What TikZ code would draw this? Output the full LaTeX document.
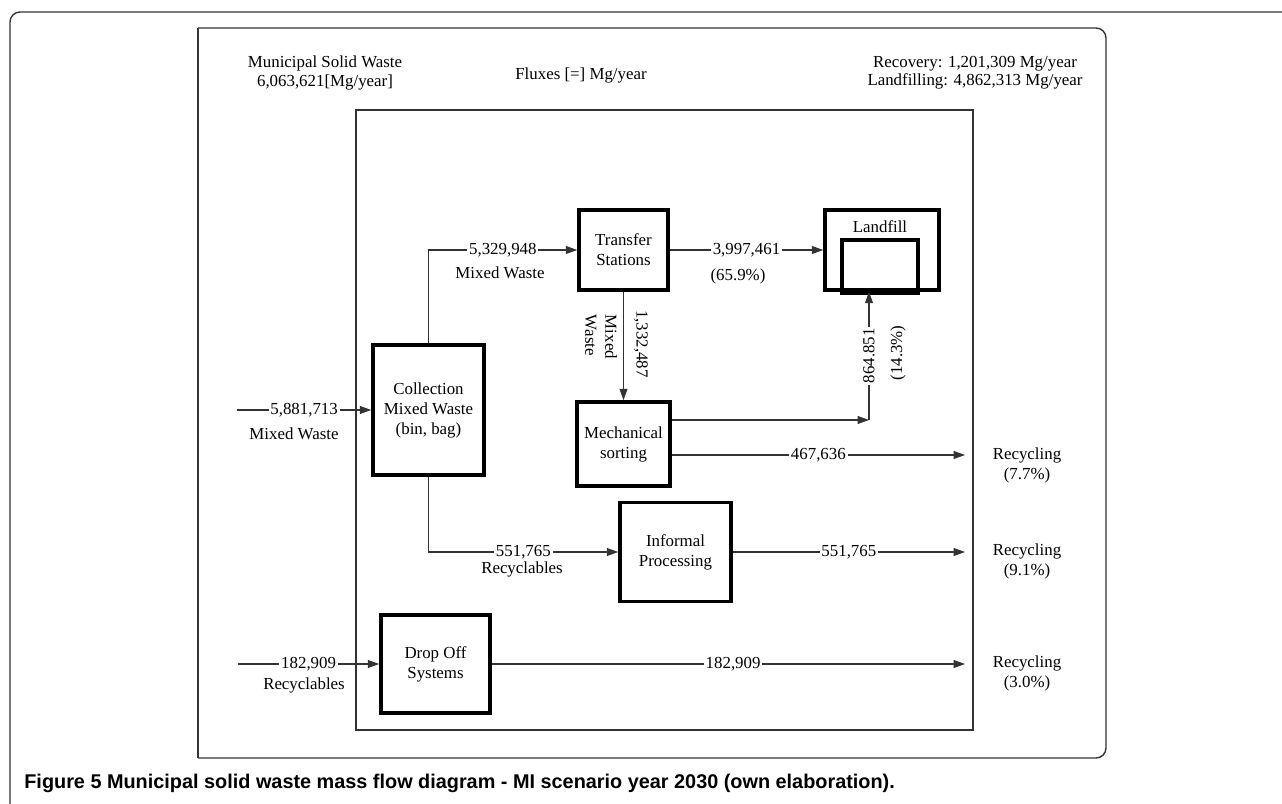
\documentclass[tikz,border=0pt]{standalone}
\usepackage{fontspec}
\setmainfont{Liberation Serif}
\newfontfamily\capfont{Liberation Sans}
\usetikzlibrary{arrows.meta,positioning}

\begin{document}
\begin{tikzpicture}[
    x=0.02cm, y=-0.02cm,
    every node/.style={font=\fontsize{9.6}{11.4}\selectfont, inner sep=1pt},
    process/.style={rectangle, draw=black, line width=2pt, align=center, inner sep=0pt},
    frame line/.style={draw=black!80, line width=0.8pt},
    flow/.style={-{Triangle[length=6.5pt,width=4.5pt]}, draw=black!80, line width=0.6pt},
    onflow/.style={fill=white, inner sep=1pt},
    note/.style={align=center, inner sep=0pt},
    head/.style={note, font=\fontsize{9.6}{10.3}\selectfont}
]
\useasboundingbox (0,0) rectangle (1282,804);

% Frames
\draw[frame line, rounded corners=0.2cm] (10,804) -- (10,12) -- (1282,12);
\draw[frame line] (198,28) -- (198,758);
\draw[frame line, rounded corners=0.2cm] (198,28) -- (1106,28) -- (1106,758) -- (198,758);
\draw[frame line] (356,110) rectangle (973,730);

% Header
\node[head] (msw) at (325,73) {Municipal Solid Waste\\6,063,621[Mg/year]};
\node (flux) at (581,75) {Fluxes [=] Mg/year};
\node[head] (totals) at (975,73) {Recovery: 1,201,309 Mg/year\\Landfilling: 4,862,313 Mg/year};

% Processes
\node[process, minimum width=2.22cm, minimum height=2.6cm] (coll) at (428.5,410) {Collection\\Mixed Waste\\(bin, bag)};
\node[process, minimum width=1.78cm, minimum height=1.6cm] (trans) at (623.5,250) {Transfer\\Stations};
\node[process, minimum width=1.86cm, minimum height=1.68cm] (mech) at (623.5,444) {Mechanical\\sorting};
\node[process, minimum width=2.22cm, minimum height=1.98cm] (infp) at (675.5,552) {Informal\\Processing};
\node[process, minimum width=2.18cm, minimum height=1.96cm] (drop) at (435.5,664) {Drop Off\\Systems};

% Landfill
\node[process, minimum width=2.28cm, minimum height=1.6cm] (landfill) at (882,250) {};
\node[process, minimum width=1.52cm, minimum height=1.0cm] (lfcell) at (880,265) {};
\draw[line width=3.5pt] (lfcell.south west) -- (lfcell.south east);
\node (lflabel) at (880,227) {Landfill};

% Free ends
\coordinate (in1) at (237,410);
\coordinate (in2) at (238,664);
\coordinate (out1) at (965,455);
\coordinate (out2) at (965,552);
\coordinate (out3) at (965,664);
\coordinate (lfcorner) at (869,420);

% Flows
\draw[flow] (in1) -- node[onflow] {5,881,713} (coll.west);
\node (inlbl1) at (294,434) {Mixed Waste};

\draw[flow] (coll.north) |- node[onflow, pos=0.75] {5,329,948} (trans.west);
\node (mw1) at (500,273) {Mixed Waste};

\draw[flow] (trans.east) -- node[onflow] {3,997,461} (landfill.west);
\node (pct1) at (738,276) {(65.9\%)};

\draw[flow] (trans.south) -- (mech.north);
\node[rotate=-90] (v1) at (641,344) {1,332,487};
\node[rotate=-90, align=left] (v2) at (601,337) {Mixed\\Waste};

\draw[flow] (mech.east |- lfcorner) -- (lfcorner);
\draw[flow] (lfcorner) -- node[onflow, rotate=90] {864.851} (landfill.south -| lfcorner);
\node[rotate=90] (pct2) at (898,353) {(14.3\%)};

\draw[flow] (mech.east |- out1) -- node[onflow] {467,636} (out1);

\draw[flow] (coll.south) |- node[onflow, pos=0.75] {551,765} (infp.west);
\node (rcy1) at (522,569) {Recyclables};
\draw[flow] (infp.east) -- node[onflow] {551,765} (out2);

\draw[flow] (in2) -- node[onflow] {182,909} (drop.west);
\node (rcy2) at (304,685) {Recyclables};
\draw[flow] (drop.east) -- node[onflow, pos=0.51] {182,909\hspace{0.4cm}} (out3);

% Recycling outputs
\node[note] (rec1) at (1027,465) {Recycling\\(7.7\%)};
\node[note] (rec2) at (1027,561) {Recycling\\(9.1\%)};
\node[note] (rec3) at (1027,673) {Recycling\\(3.0\%)};

% Caption
\node[anchor=west, inner sep=0pt, font={\capfont\bfseries\fontsize{11.3}{13}\selectfont}] (caption) at (24,783) {Figure 5 Municipal solid waste mass flow diagram - MI scenario year 2030 (own elaboration).};

\end{tikzpicture}
\end{document}
